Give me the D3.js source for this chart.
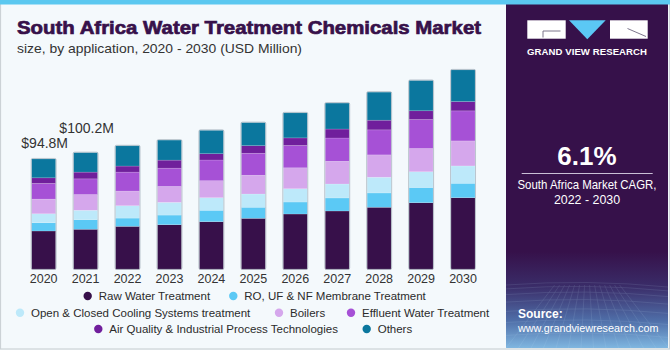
<!DOCTYPE html>
<html>
<head>
<meta charset="utf-8">
<script src="https://cdn.jsdelivr.net/npm/d3@7"></script>
<style>
  html, body { margin: 0; padding: 0; background: #ffffff; }
  svg { display: block; }
  text { font-family: "Liberation Sans", Arial, sans-serif; }
</style>
</head>
<body>
<svg id="chart" width="670" height="350"></svg>
<script>
// ---------- DATA ----------
const years = ["2020", "2021", "2022", "2023", "2024", "2025", "2026", "2027", "2028", "2029", "2030"];
const seriesNames = [
  "Raw Water Treatment",
  "RO, UF & NF Membrane Treatment",
  "Open & Closed Cooling Systems treatment",
  "Boilers",
  "Effluent Water Treatment",
  "Air Quality & Industrial Process Technologies",
  "Others"
];
const rawWater   = [32.9, 34.4, 36.9, 38.3, 40.9, 43.8, 47.5, 50.1, 53.3, 57.2, 61.5];
const membrane   = [7.1, 8.3, 7.1, 8.3, 9.8, 9.5, 10.3, 11.2, 12.3, 13.1, 12.4];
const cooling    = [7.7, 8.0, 10.6, 10.9, 10.8, 11.4, 11.4, 12.0, 13.5, 13.5, 14.9];
const boilers    = [12.6, 13.5, 12.6, 13.7, 14.6, 16.1, 18.0, 19.5, 19.2, 20.0, 21.5];
const effluent   = [13.5, 13.5, 16.3, 15.7, 17.8, 18.9, 19.2, 20.0, 21.5, 24.9, 25.8];
const airQuality = [4.8, 5.8, 5.2, 6.9, 5.4, 6.5, 6.5, 7.7, 8.3, 7.5, 8.0];
const others     = [16.2, 16.7, 17.4, 17.2, 20.1, 19.8, 21.5, 22.3, 24.1, 26.0, 27.2];
const annotationYears  = ["2020", "2021"];
const annotationLabels = ["$94.8M", "$100.2M"];
const cagrValue = "6.1%";
const cagrText1 = "South Africa Market CAGR,";
const cagrText2 = "2022 - 2030";

// ---------- STYLE ----------
const colors = ["#37104A", "#5BC9F5", "#BDE9FA", "#D5A7EC", "#A651D6", "#701F9C", "#0B779E"];
const W = 670, H = 350;
const svg = d3.select("#chart");

// build table for stacking
const seriesArrays = [rawWater, membrane, cooling, boilers, effluent, airQuality, others];
const table = years.map((y, i) => {
  const row = { year: y };
  seriesNames.forEach((s, j) => { row[s] = seriesArrays[j][i]; });
  return row;
});
const stacked = d3.stack().keys(seriesNames)(table);

// ---------- BACKGROUND ----------
svg.append("rect").attr("x", 0).attr("y", 0).attr("width", W).attr("height", H).attr("fill", "#F4F9FC");
svg.append("rect").attr("x", 0.5).attr("y", 0.5).attr("width", W - 1).attr("height", H - 1.5)
  .attr("fill", "none").attr("stroke", "#CCD2D6").attr("stroke-width", 1.2);

// right panel
const defs = svg.append("defs");
const grad = defs.append("linearGradient").attr("id", "pgrad").attr("x1", 0).attr("y1", 0).attr("x2", 0).attr("y2", 1);
grad.append("stop").attr("offset", "0%").attr("stop-color", "#36114A");
grad.append("stop").attr("offset", "72%").attr("stop-color", "#36114A");
grad.append("stop").attr("offset", "82%").attr("stop-color", "#3A2C68");
grad.append("stop").attr("offset", "92%").attr("stop-color", "#4F6EA8");
grad.append("stop").attr("offset", "100%").attr("stop-color", "#7FB6E0");
const px0 = 506, px1 = 668;
svg.append("rect").attr("x", px0).attr("y", 4).attr("width", px1 - px0).attr("height", 344).attr("fill", "url(#pgrad)");

// faint perspective grid at the bottom of the panel
const gridG = svg.append("g").attr("opacity", 0.18).attr("stroke", "#C8E6FA").attr("stroke-width", 0.6).attr("fill", "none");
for (let k = 0; k < 9; k++) {
  const yy = 285 + k * k * 0.9 + k * 3;
  if (yy < 348) gridG.append("path").attr("d", `M${px0},${yy} Q${(px0 + px1) / 2},${yy - 6} ${px1},${yy + 2}`);
}
for (let k = 0; k < 14; k++) {
  const xx = px0 + k * 12.5;
  gridG.append("path").attr("d", `M${xx},${348} L${587 + (xx - 587) * 0.4},285`);
}

// top strip
svg.append("rect").attr("x", 0).attr("y", 0).attr("width", W).attr("height", 4.5).attr("fill", "#5BC8F0");

// ---------- TITLE ----------
svg.append("text").attr("x", 17).attr("y", 34)
  .attr("font-size", 19).attr("font-weight", "bold").attr("fill", "#37114A")
  .attr("stroke", "#37114A").attr("stroke-width", 0.7)
  .attr("textLength", 464).attr("lengthAdjust", "spacingAndGlyphs")
  .text("South Africa Water Treatment Chemicals Market");
svg.append("text").attr("x", 17).attr("y", 53)
  .attr("font-size", 13.3).attr("fill", "#333333")
  .attr("textLength", 285).attr("lengthAdjust", "spacingAndGlyphs")
  .text("size, by application, 2020 - 2030 (USD Million)");

// ---------- SCALES ----------
const x = d3.scaleBand().domain(years).range([22.7, 484]).paddingInner(0.428).paddingOuter(0.214);
const y = d3.scaleLinear().domain([0, 200]).range([269.3, 269.3 - 200 * 1.164]);

// ---------- BARS ----------
const barsG = svg.append("g");
stacked.forEach((layer, j) => {
  barsG.append("g").attr("fill", colors[j])
    .selectAll("rect").data(layer).join("rect")
    .attr("x", d => x(d.data.year))
    .attr("y", d => y(d[1]))
    .attr("width", x.bandwidth())
    .attr("height", d => y(d[0]) - y(d[1]))
    .attr("stroke", "rgba(255,255,255,0.25)")
    .attr("stroke-width", 0.6);
});
// bar outlines
const totals = table.map(r => d3.sum(seriesNames, s => r[s]));
barsG.append("g").selectAll("rect").data(years).join("rect")
  .attr("x", d => x(d) - 0.5)
  .attr("y", (d, i) => y(totals[i]) - 0.5)
  .attr("width", x.bandwidth() + 1)
  .attr("height", (d, i) => y(0) - y(totals[i]) + 0.5)
  .attr("rx", 1.5)
  .attr("fill", "none").attr("stroke", "#8C9AA8").attr("stroke-opacity", 0.55).attr("stroke-width", 1);

// ---------- X AXIS ----------
const xAxis = d3.axisBottom(x).tickSize(0).tickPadding(0);
const axG = svg.append("g").attr("transform", `translate(0,${y(0) + 2})`).call(xAxis);
axG.select(".domain").remove();
axG.selectAll("text").attr("font-size", 12.5).attr("fill", "#333333")
  .attr("font-family", "Liberation Sans, Arial, sans-serif").attr("dy", "0.95em");

// ---------- ANNOTATIONS ----------
const annOffsets = [11, 19.5];
annotationYears.forEach((yr, i) => {
  const idx = years.indexOf(yr);
  svg.append("text")
    .attr("x", x(yr) + x.bandwidth() / 2 + 1)
    .attr("y", y(totals[idx]) - annOffsets[i])
    .attr("text-anchor", "middle").attr("font-size", 14).attr("fill", "#333333")
    .text(annotationLabels[i]);
});

// ---------- LEGEND ----------
const legendPos = [
  [87.7, 296], [233.3, 296],
  [20, 312.7], [279, 312.7], [351, 312.7],
  [98.3, 329], [366.7, 329]
];
const legG = svg.append("g");
seriesNames.forEach((s, j) => {
  const [cx, cy] = legendPos[j];
  legG.append("circle").attr("cx", cx).attr("cy", cy).attr("r", 4.2).attr("fill", colors[j]);
  legG.append("text").attr("x", cx + 11).attr("y", cy + 4.3)
    .attr("font-size", 11.5).attr("fill", "#2B2B2B").text(s);
});

// ---------- RIGHT PANEL CONTENT ----------
const pc = 587;
// logo
const logo = svg.append("g");
logo.append("rect").attr("x", 527.3).attr("y", 20.3).attr("width", 38.4).attr("height", 18.4).attr("fill", "#FFFFFF");
logo.append("path").attr("d", "M543,37.5 L543,31 L560.5,31").attr("fill", "none").attr("stroke", "#6E6680").attr("stroke-width", 0.9);
logo.append("path").attr("d", "M569,20.3 L605.7,20.3 L587.3,39.3 Z").attr("fill", "#5BC8F5");
logo.append("rect").attr("x", 610).attr("y", 20.3).attr("width", 37.7).attr("height", 18.4).attr("fill", "#FFFFFF");
logo.append("path").attr("d", "M627.5,28.5 L646,36.5").attr("fill", "none").attr("stroke", "#6E6680").attr("stroke-width", 0.9);
logo.append("text").attr("x", pc).attr("y", 54.7).attr("text-anchor", "middle")
  .attr("font-size", 9.6).attr("font-weight", "bold").attr("fill", "#FFFFFF")
  .attr("textLength", 120).attr("lengthAdjust", "spacing")
  .text("GRAND VIEW RESEARCH");

// CAGR
svg.append("text").attr("x", pc).attr("y", 165).attr("text-anchor", "middle")
  .attr("font-size", 26).attr("font-weight", "bold").attr("fill", "#FFFFFF").text(cagrValue);
svg.append("line").attr("x1", 521.7).attr("x2", 652.7).attr("y1", 173.5).attr("y2", 173.5)
  .attr("stroke", "#C9BFD6").attr("stroke-width", 1);
svg.append("text").attr("x", pc).attr("y", 189.3).attr("text-anchor", "middle")
  .attr("font-size", 12.4).attr("fill", "#FFFFFF")
  .attr("textLength", 139).attr("lengthAdjust", "spacingAndGlyphs").text(cagrText1);
svg.append("text").attr("x", pc).attr("y", 204).attr("text-anchor", "middle")
  .attr("font-size", 12.4).attr("fill", "#FFFFFF").text(cagrText2);

// source
svg.append("text").attr("x", 518).attr("y", 318).attr("font-size", 12).attr("font-weight", "bold")
  .attr("fill", "#FFFFFF").text("Source:");
svg.append("text").attr("x", 518).attr("y", 332).attr("font-size", 10.8)
  .attr("fill", "#FFFFFF").text("www.grandviewresearch.com");
</script>
</body>
</html>
